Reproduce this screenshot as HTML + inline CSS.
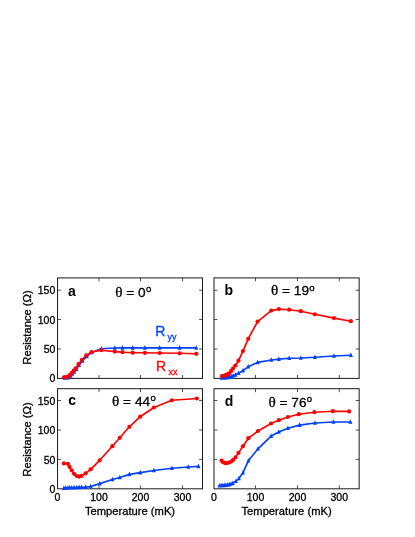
<!DOCTYPE html>
<html><head><meta charset="utf-8"><title>figure</title>
<style>
html,body{margin:0;padding:0;background:#fff;}
body{width:415px;height:537px;position:relative;overflow:hidden;font-family:"Liberation Sans",sans-serif;color:#000;}
.tx{position:absolute;left:0;top:0;width:415px;height:537px;will-change:transform;}
.t{position:absolute;white-space:nowrap;-webkit-text-stroke:0.3px currentColor;line-height:13px;font-size:11.2px;}
.yl{text-align:right;font-size:10.5px;}
.xt{font-size:10.5px;}
.rot{transform:rotate(-90deg);transform-origin:50% 50%;}
.pl{font-weight:bold;font-size:14px;line-height:16px;-webkit-text-stroke:0;}
.th{font-size:13.7px;line-height:16px;}
.sy{font-family:"Liberation Serif",serif;font-size:15.2px;}
.dg{font-size:9.6px;position:relative;top:-4.7px;margin-left:0.3px;}
.rl{font-size:14px;line-height:16px;}
.sub{font-size:9px;position:relative;top:4px;margin-left:2.3px;}
</style></head><body>
<svg width="415" height="537" viewBox="0 0 415 537" style="position:absolute;left:0;top:0">
<rect x="57.55" y="277.9" width="144.95" height="100.50" fill="none" stroke="#1a1a1a" stroke-width="1"/>
<path d="M99.0 378.4v-3.4M99.0 277.9v3.4" stroke="#1a1a1a" stroke-width="0.75" fill="none"/>
<path d="M140.5 378.4v-3.4M140.5 277.9v3.4" stroke="#1a1a1a" stroke-width="0.75" fill="none"/>
<path d="M182.5 378.4v-3.4M182.5 277.9v3.4" stroke="#1a1a1a" stroke-width="0.75" fill="none"/>
<path d="M57.55 290.2h3.4M202.5 290.2h-3.4" stroke="#1a1a1a" stroke-width="0.75" fill="none"/>
<path d="M57.55 319.5h3.4M202.5 319.5h-3.4" stroke="#1a1a1a" stroke-width="0.75" fill="none"/>
<path d="M57.55 349.0h3.4M202.5 349.0h-3.4" stroke="#1a1a1a" stroke-width="0.75" fill="none"/>
<rect x="214.0" y="277.9" width="145.15" height="100.50" fill="none" stroke="#1a1a1a" stroke-width="1"/>
<path d="M255.5 378.4v-3.4M255.5 277.9v3.4" stroke="#1a1a1a" stroke-width="0.75" fill="none"/>
<path d="M297.5 378.4v-3.4M297.5 277.9v3.4" stroke="#1a1a1a" stroke-width="0.75" fill="none"/>
<path d="M339.3 378.4v-3.4M339.3 277.9v3.4" stroke="#1a1a1a" stroke-width="0.75" fill="none"/>
<path d="M214.0 290.2h3.4M359.15 290.2h-3.4" stroke="#1a1a1a" stroke-width="0.75" fill="none"/>
<path d="M214.0 319.5h3.4M359.15 319.5h-3.4" stroke="#1a1a1a" stroke-width="0.75" fill="none"/>
<path d="M214.0 349.0h3.4M359.15 349.0h-3.4" stroke="#1a1a1a" stroke-width="0.75" fill="none"/>
<rect x="57.55" y="388.7" width="144.95" height="100.10" fill="none" stroke="#1a1a1a" stroke-width="1"/>
<path d="M99.0 488.8v-3.4M99.0 388.7v3.4" stroke="#1a1a1a" stroke-width="0.75" fill="none"/>
<path d="M140.5 488.8v-3.4M140.5 388.7v3.4" stroke="#1a1a1a" stroke-width="0.75" fill="none"/>
<path d="M182.5 488.8v-3.4M182.5 388.7v3.4" stroke="#1a1a1a" stroke-width="0.75" fill="none"/>
<path d="M57.55 400.5h3.4M202.5 400.5h-3.4" stroke="#1a1a1a" stroke-width="0.75" fill="none"/>
<path d="M57.55 430.0h3.4M202.5 430.0h-3.4" stroke="#1a1a1a" stroke-width="0.75" fill="none"/>
<path d="M57.55 459.4h3.4M202.5 459.4h-3.4" stroke="#1a1a1a" stroke-width="0.75" fill="none"/>
<rect x="214.0" y="388.7" width="145.15" height="100.10" fill="none" stroke="#1a1a1a" stroke-width="1"/>
<path d="M255.5 488.8v-3.4M255.5 388.7v3.4" stroke="#1a1a1a" stroke-width="0.75" fill="none"/>
<path d="M297.5 488.8v-3.4M297.5 388.7v3.4" stroke="#1a1a1a" stroke-width="0.75" fill="none"/>
<path d="M339.3 488.8v-3.4M339.3 388.7v3.4" stroke="#1a1a1a" stroke-width="0.75" fill="none"/>
<path d="M214.0 400.5h3.4M359.15 400.5h-3.4" stroke="#1a1a1a" stroke-width="0.75" fill="none"/>
<path d="M214.0 430.0h3.4M359.15 430.0h-3.4" stroke="#1a1a1a" stroke-width="0.75" fill="none"/>
<path d="M214.0 459.4h3.4M359.15 459.4h-3.4" stroke="#1a1a1a" stroke-width="0.75" fill="none"/>
<path d="M64.60 378.00L66.80 377.90L68.70 377.40L70.60 376.00L72.30 374.00L74.20 371.90L76.40 369.40L79.00 365.20L82.40 361.00L86.80 356.40L91.80 352.40L101.30 348.70L114.80 348.00L122.50 347.90L132.70 347.90L144.90 347.90L159.70 347.90L179.60 347.90L196.30 347.90" fill="none" stroke="#0040ff" stroke-width="1.65" stroke-linejoin="round" stroke-linecap="round"/>
<path d="M64.60 375.20L66.60 379.80L62.60 379.80ZM66.80 375.10L68.80 379.70L64.80 379.70ZM68.70 374.60L70.70 379.20L66.70 379.20ZM70.60 373.20L72.60 377.80L68.60 377.80ZM72.30 371.20L74.30 375.80L70.30 375.80ZM74.20 369.10L76.20 373.70L72.20 373.70ZM76.40 366.60L78.40 371.20L74.40 371.20ZM79.00 362.40L81.00 367.00L77.00 367.00ZM82.40 358.20L84.40 362.80L80.40 362.80ZM86.80 353.60L88.80 358.20L84.80 358.20ZM91.80 349.60L93.80 354.20L89.80 354.20ZM101.30 345.90L103.30 350.50L99.30 350.50ZM114.80 345.20L116.80 349.80L112.80 349.80ZM122.50 345.10L124.50 349.70L120.50 349.70ZM132.70 345.10L134.70 349.70L130.70 349.70ZM144.90 345.10L146.90 349.70L142.90 349.70ZM159.70 345.10L161.70 349.70L157.70 349.70ZM179.60 345.10L181.60 349.70L177.60 349.70ZM196.30 345.10L198.30 349.70L194.30 349.70Z" fill="#0040ff"/>
<path d="M64.00 377.30L66.00 377.10L67.90 376.70L70.00 374.90L71.90 372.80L73.70 370.70L75.80 368.30L78.50 364.10L81.90 359.90L86.30 355.40L91.50 352.00L101.30 350.20L114.80 351.60L122.50 352.20L132.70 352.70L144.90 352.80L159.70 353.00L179.60 353.30L196.30 353.80" fill="none" stroke="#ff0000" stroke-width="1.65" stroke-linejoin="round" stroke-linecap="round"/>
<circle cx="64.00" cy="377.30" r="2.1" fill="#ff0000"/>
<circle cx="66.00" cy="377.10" r="2.1" fill="#ff0000"/>
<circle cx="67.90" cy="376.70" r="2.1" fill="#ff0000"/>
<circle cx="70.00" cy="374.90" r="2.1" fill="#ff0000"/>
<circle cx="71.90" cy="372.80" r="2.1" fill="#ff0000"/>
<circle cx="73.70" cy="370.70" r="2.1" fill="#ff0000"/>
<circle cx="75.80" cy="368.30" r="2.1" fill="#ff0000"/>
<circle cx="78.50" cy="364.10" r="2.1" fill="#ff0000"/>
<circle cx="81.90" cy="359.90" r="2.1" fill="#ff0000"/>
<circle cx="86.30" cy="355.40" r="2.1" fill="#ff0000"/>
<circle cx="91.50" cy="352.00" r="2.1" fill="#ff0000"/>
<circle cx="101.30" cy="350.20" r="2.1" fill="#ff0000"/>
<circle cx="114.80" cy="351.60" r="2.1" fill="#ff0000"/>
<circle cx="122.50" cy="352.20" r="2.1" fill="#ff0000"/>
<circle cx="132.70" cy="352.70" r="2.1" fill="#ff0000"/>
<circle cx="144.90" cy="352.80" r="2.1" fill="#ff0000"/>
<circle cx="159.70" cy="353.00" r="2.1" fill="#ff0000"/>
<circle cx="179.60" cy="353.30" r="2.1" fill="#ff0000"/>
<circle cx="196.30" cy="353.80" r="2.1" fill="#ff0000"/>
<path d="M221.90 378.00L223.20 378.00L224.50 377.90L225.80 377.80L227.00 377.60L228.20 377.40L229.30 377.10L231.20 376.50L233.10 375.80L235.40 374.90L238.50 373.30L243.00 370.60L248.20 366.80L257.60 362.40L271.30 360.00L278.80 359.10L289.20 358.30L300.80 358.00L314.90 357.20L334.00 356.00L350.90 355.30" fill="none" stroke="#0040ff" stroke-width="1.65" stroke-linejoin="round" stroke-linecap="round"/>
<path d="M221.90 375.20L223.90 379.80L219.90 379.80ZM223.20 375.20L225.20 379.80L221.20 379.80ZM224.50 375.10L226.50 379.70L222.50 379.70ZM225.80 375.00L227.80 379.60L223.80 379.60ZM227.00 374.80L229.00 379.40L225.00 379.40ZM228.20 374.60L230.20 379.20L226.20 379.20ZM229.30 374.30L231.30 378.90L227.30 378.90ZM231.20 373.70L233.20 378.30L229.20 378.30ZM233.10 373.00L235.10 377.60L231.10 377.60ZM235.40 372.10L237.40 376.70L233.40 376.70ZM238.50 370.50L240.50 375.10L236.50 375.10ZM243.00 367.80L245.00 372.40L241.00 372.40ZM248.20 364.00L250.20 368.60L246.20 368.60ZM257.60 359.60L259.60 364.20L255.60 364.20ZM271.30 357.20L273.30 361.80L269.30 361.80ZM278.80 356.30L280.80 360.90L276.80 360.90ZM289.20 355.50L291.20 360.10L287.20 360.10ZM300.80 355.20L302.80 359.80L298.80 359.80ZM314.90 354.40L316.90 359.00L312.90 359.00ZM334.00 353.20L336.00 357.80L332.00 357.80ZM350.90 352.50L352.90 357.10L348.90 357.10Z" fill="#0040ff"/>
<path d="M221.90 376.20L223.20 376.00L224.50 375.60L225.80 375.20L227.00 374.60L228.20 374.00L229.30 373.30L231.20 370.90L233.10 368.40L235.40 365.50L238.50 360.70L243.00 351.10L248.20 338.90L257.60 321.60L271.30 310.60L278.80 309.10L289.20 309.70L300.80 311.20L314.90 314.30L334.00 318.10L350.90 321.20" fill="none" stroke="#ff0000" stroke-width="1.65" stroke-linejoin="round" stroke-linecap="round"/>
<circle cx="221.90" cy="376.20" r="2.1" fill="#ff0000"/>
<circle cx="223.20" cy="376.00" r="2.1" fill="#ff0000"/>
<circle cx="224.50" cy="375.60" r="2.1" fill="#ff0000"/>
<circle cx="225.80" cy="375.20" r="2.1" fill="#ff0000"/>
<circle cx="227.00" cy="374.60" r="2.1" fill="#ff0000"/>
<circle cx="228.20" cy="374.00" r="2.1" fill="#ff0000"/>
<circle cx="229.30" cy="373.30" r="2.1" fill="#ff0000"/>
<circle cx="231.20" cy="370.90" r="2.1" fill="#ff0000"/>
<circle cx="233.10" cy="368.40" r="2.1" fill="#ff0000"/>
<circle cx="235.40" cy="365.50" r="2.1" fill="#ff0000"/>
<circle cx="238.50" cy="360.70" r="2.1" fill="#ff0000"/>
<circle cx="243.00" cy="351.10" r="2.1" fill="#ff0000"/>
<circle cx="248.20" cy="338.90" r="2.1" fill="#ff0000"/>
<circle cx="257.60" cy="321.60" r="2.1" fill="#ff0000"/>
<circle cx="271.30" cy="310.60" r="2.1" fill="#ff0000"/>
<circle cx="278.80" cy="309.10" r="2.1" fill="#ff0000"/>
<circle cx="289.20" cy="309.70" r="2.1" fill="#ff0000"/>
<circle cx="300.80" cy="311.20" r="2.1" fill="#ff0000"/>
<circle cx="314.90" cy="314.30" r="2.1" fill="#ff0000"/>
<circle cx="334.00" cy="318.10" r="2.1" fill="#ff0000"/>
<circle cx="350.90" cy="321.20" r="2.1" fill="#ff0000"/>
<path d="M63.90 488.10L65.80 488.00L68.00 487.90L69.60 487.80L71.70 487.70L74.10 487.60L76.80 487.50L79.20 487.40L81.50 487.30L85.60 487.10L90.70 486.50L99.70 483.60L112.40 479.50L119.80 477.50L129.40 474.40L140.20 472.60L153.90 470.50L171.90 468.30L188.30 467.00L198.50 466.40" fill="none" stroke="#0040ff" stroke-width="1.65" stroke-linejoin="round" stroke-linecap="round"/>
<path d="M63.90 485.30L65.90 489.90L61.90 489.90ZM65.80 485.20L67.80 489.80L63.80 489.80ZM68.00 485.10L70.00 489.70L66.00 489.70ZM69.60 485.00L71.60 489.60L67.60 489.60ZM71.70 484.90L73.70 489.50L69.70 489.50ZM74.10 484.80L76.10 489.40L72.10 489.40ZM76.80 484.70L78.80 489.30L74.80 489.30ZM79.20 484.60L81.20 489.20L77.20 489.20ZM81.50 484.50L83.50 489.10L79.50 489.10ZM85.60 484.30L87.60 488.90L83.60 488.90ZM90.70 483.70L92.70 488.30L88.70 488.30ZM99.70 480.80L101.70 485.40L97.70 485.40ZM112.40 476.70L114.40 481.30L110.40 481.30ZM119.80 474.70L121.80 479.30L117.80 479.30ZM129.40 471.60L131.40 476.20L127.40 476.20ZM140.20 469.80L142.20 474.40L138.20 474.40ZM153.90 467.70L155.90 472.30L151.90 472.30ZM171.90 465.50L173.90 470.10L169.90 470.10ZM188.30 464.20L190.30 468.80L186.30 468.80ZM198.50 463.60L200.50 468.20L196.50 468.20Z" fill="#0040ff"/>
<path d="M63.90 463.40L68.00 463.80L69.60 466.80L71.70 470.30L74.10 473.80L76.80 476.00L79.20 476.70L81.50 475.80L85.60 473.40L90.70 469.30L99.70 460.30L112.40 446.20L119.80 437.80L129.40 426.80L140.20 416.70L153.90 407.50L171.90 400.30L196.90 398.50" fill="none" stroke="#ff0000" stroke-width="1.65" stroke-linejoin="round" stroke-linecap="round"/>
<circle cx="63.90" cy="463.40" r="2.1" fill="#ff0000"/>
<circle cx="68.00" cy="463.80" r="2.1" fill="#ff0000"/>
<circle cx="69.60" cy="466.80" r="2.1" fill="#ff0000"/>
<circle cx="71.70" cy="470.30" r="2.1" fill="#ff0000"/>
<circle cx="74.10" cy="473.80" r="2.1" fill="#ff0000"/>
<circle cx="76.80" cy="476.00" r="2.1" fill="#ff0000"/>
<circle cx="79.20" cy="476.70" r="2.1" fill="#ff0000"/>
<circle cx="81.50" cy="475.80" r="2.1" fill="#ff0000"/>
<circle cx="85.60" cy="473.40" r="2.1" fill="#ff0000"/>
<circle cx="90.70" cy="469.30" r="2.1" fill="#ff0000"/>
<circle cx="99.70" cy="460.30" r="2.1" fill="#ff0000"/>
<circle cx="112.40" cy="446.20" r="2.1" fill="#ff0000"/>
<circle cx="119.80" cy="437.80" r="2.1" fill="#ff0000"/>
<circle cx="129.40" cy="426.80" r="2.1" fill="#ff0000"/>
<circle cx="140.20" cy="416.70" r="2.1" fill="#ff0000"/>
<circle cx="153.90" cy="407.50" r="2.1" fill="#ff0000"/>
<circle cx="171.90" cy="400.30" r="2.1" fill="#ff0000"/>
<circle cx="196.90" cy="398.50" r="2.1" fill="#ff0000"/>
<path d="M219.50 485.70L221.10 485.60L222.70 485.50L224.30 485.40L225.90 485.20L227.50 485.00L229.10 484.60L230.90 484.00L232.80 483.20L235.90 481.20L238.90 478.50L243.00 472.80L248.40 460.70L258.00 448.80L271.10 436.10L278.80 432.00L287.90 428.20L299.60 425.10L315.00 423.00L333.40 422.00L350.40 422.00" fill="none" stroke="#0040ff" stroke-width="1.65" stroke-linejoin="round" stroke-linecap="round"/>
<path d="M219.50 482.90L221.50 487.50L217.50 487.50ZM221.10 482.80L223.10 487.40L219.10 487.40ZM222.70 482.70L224.70 487.30L220.70 487.30ZM224.30 482.60L226.30 487.20L222.30 487.20ZM225.90 482.40L227.90 487.00L223.90 487.00ZM227.50 482.20L229.50 486.80L225.50 486.80ZM229.10 481.80L231.10 486.40L227.10 486.40ZM230.90 481.20L232.90 485.80L228.90 485.80ZM232.80 480.40L234.80 485.00L230.80 485.00ZM235.90 478.40L237.90 483.00L233.90 483.00ZM238.90 475.70L240.90 480.30L236.90 480.30ZM243.00 470.00L245.00 474.60L241.00 474.60ZM248.40 457.90L250.40 462.50L246.40 462.50ZM258.00 446.00L260.00 450.60L256.00 450.60ZM271.10 433.30L273.10 437.90L269.10 437.90ZM278.80 429.20L280.80 433.80L276.80 433.80ZM287.90 425.40L289.90 430.00L285.90 430.00ZM299.60 422.30L301.60 426.90L297.60 426.90ZM315.00 420.20L317.00 424.80L313.00 424.80ZM333.40 419.20L335.40 423.80L331.40 423.80ZM350.40 419.20L352.40 423.80L348.40 423.80Z" fill="#0040ff"/>
<path d="M221.60 460.70L223.00 462.10L225.00 463.10L227.10 463.10L229.10 462.50L231.20 461.50L233.20 459.90L235.50 457.40L238.50 452.90L243.00 446.20L248.40 438.20L258.00 431.00L271.10 423.50L278.80 420.20L287.90 417.00L298.80 414.20L314.40 412.20L332.80 411.20L349.10 411.40" fill="none" stroke="#ff0000" stroke-width="1.65" stroke-linejoin="round" stroke-linecap="round"/>
<circle cx="221.60" cy="460.70" r="2.1" fill="#ff0000"/>
<circle cx="223.00" cy="462.10" r="2.1" fill="#ff0000"/>
<circle cx="225.00" cy="463.10" r="2.1" fill="#ff0000"/>
<circle cx="227.10" cy="463.10" r="2.1" fill="#ff0000"/>
<circle cx="229.10" cy="462.50" r="2.1" fill="#ff0000"/>
<circle cx="231.20" cy="461.50" r="2.1" fill="#ff0000"/>
<circle cx="233.20" cy="459.90" r="2.1" fill="#ff0000"/>
<circle cx="235.50" cy="457.40" r="2.1" fill="#ff0000"/>
<circle cx="238.50" cy="452.90" r="2.1" fill="#ff0000"/>
<circle cx="243.00" cy="446.20" r="2.1" fill="#ff0000"/>
<circle cx="248.40" cy="438.20" r="2.1" fill="#ff0000"/>
<circle cx="258.00" cy="431.00" r="2.1" fill="#ff0000"/>
<circle cx="271.10" cy="423.50" r="2.1" fill="#ff0000"/>
<circle cx="278.80" cy="420.20" r="2.1" fill="#ff0000"/>
<circle cx="287.90" cy="417.00" r="2.1" fill="#ff0000"/>
<circle cx="298.80" cy="414.20" r="2.1" fill="#ff0000"/>
<circle cx="314.40" cy="412.20" r="2.1" fill="#ff0000"/>
<circle cx="332.80" cy="411.20" r="2.1" fill="#ff0000"/>
<circle cx="349.10" cy="411.40" r="2.1" fill="#ff0000"/>
</svg>
<div class="tx">
<div class="t yl" style="right:359.7px;top:284px">150</div>
<div class="t yl" style="right:359.7px;top:314px">100</div>
<div class="t yl" style="right:359.7px;top:343px">50</div>
<div class="t yl" style="right:359.7px;top:372px">0</div>
<div class="t yl" style="right:359.7px;top:395px">150</div>
<div class="t yl" style="right:359.7px;top:424px">100</div>
<div class="t yl" style="right:359.7px;top:454px">50</div>
<div class="t yl" style="right:359.7px;top:483px">0</div>
<div class="t xl xt" style="left:37.5px;top:490.7px;width:40px;text-align:center">0</div>
<div class="t xl xt" style="left:79.0px;top:490.7px;width:40px;text-align:center">100</div>
<div class="t xl xt" style="left:120.5px;top:490.7px;width:40px;text-align:center">200</div>
<div class="t xl xt" style="left:162.5px;top:490.7px;width:40px;text-align:center">300</div>
<div class="t xl" style="left:70.0px;top:504.9px;width:120px;text-align:center">Temperature (mK)</div>
<div class="t xl xt" style="left:194.0px;top:490.7px;width:40px;text-align:center">0</div>
<div class="t xl xt" style="left:235.5px;top:490.7px;width:40px;text-align:center">100</div>
<div class="t xl xt" style="left:277.5px;top:490.7px;width:40px;text-align:center">200</div>
<div class="t xl xt" style="left:319.3px;top:490.7px;width:40px;text-align:center">300</div>
<div class="t xl" style="left:226.6px;top:504.9px;width:120px;text-align:center">Temperature (mK)</div>
<div class="t xl rot" style="left:-32.7px;top:321.3px;width:120px;text-align:center">Resistance (&Omega;)</div>
<div class="t xl rot" style="left:-32.7px;top:432.5px;width:120px;text-align:center">Resistance (&Omega;)</div>
<div class="t pl" style="left:68.0px;top:283px">a</div>
<div class="t pl" style="left:224.5px;top:282.3px">b</div>
<div class="t pl" style="left:68.2px;top:392.0px">c</div>
<div class="t pl" style="left:224.8px;top:392.7px">d</div>
<div class="t th" style="left:115.2px;top:283.8px"><span class="sy">&theta;</span> = 0<span class="dg">o</span></div>
<div class="t th" style="left:270.9px;top:282.2px"><span class="sy">&theta;</span> = 19<span class="dg">o</span></div>
<div class="t th" style="left:112.0px;top:392.6px"><span class="sy">&theta;</span> = 44<span class="dg">o</span></div>
<div class="t th" style="left:268.4px;top:393.5px"><span class="sy">&theta;</span> = 76<span class="dg">o</span></div>
<div class="t rl" style="left:155.2px;top:323.3px;color:#0040ff">R<span class="sub">yy</span></div>
<div class="t rl" style="left:156.1px;top:357.6px;color:#ff0000">R<span class="sub" style="top:4.9px">xx</span></div>
</div>
</body></html>
